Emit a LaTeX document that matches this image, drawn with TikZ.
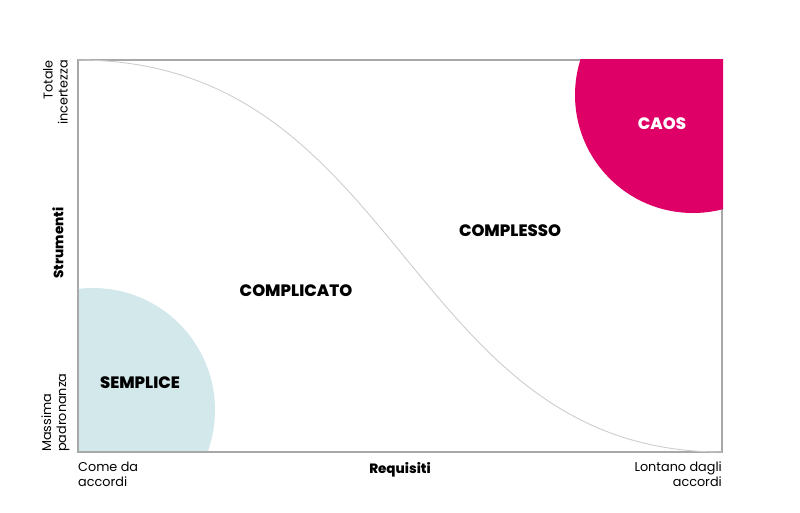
\documentclass[tikz,border=0pt]{standalone}
\usepackage{fontspec}
\setmainfont{Poppins}
\newfontfamily\heavyfont{Poppins}[UprightFont=* ExtraBold]
\usetikzlibrary{positioning}
\definecolor{caospink}{RGB}{222,0,102}
\definecolor{sempblue}{RGB}{211,232,235}
\definecolor{framegray}{RGB}{168,168,168}
\definecolor{curvegray}{RGB}{205,205,205}

\begin{document}
\begin{tikzpicture}[x=1pt,y=-1pt,
  zone/.style={font=\fontsize{16.5}{19}\heavyfont},
  axislbl/.style={font=\fontsize{12.8}{15}\selectfont, inner sep=0pt},
  axisname/.style={font=\fontsize{13.5}{15}\heavyfont, inner sep=0pt}]

\useasboundingbox (0,0) rectangle (800,512);

%---------------- Semplice area ----------------%
\begin{scope}
\clip (78,60) rectangle (722,452);
\fill[sempblue] (93,410) circle (122pt);
\end{scope}

%---------------- Frame ----------------%
\coordinate (tl) at (78,60);
\coordinate (bl) at (78,452);
\coordinate (br) at (722,452);
\coordinate (tr) at (722,60);
\draw[framegray, line width=1.3pt] (tl) -- (bl) -- (br) -- (tr) -- cycle;

%---------------- Curve ----------------%
\draw[curvegray, line width=0.9pt] (tl) .. controls (405,60) and (405,452) .. (br);

%---------------- Caos area ----------------%
\begin{scope}
\clip (77,59) rectangle (723,453);
\fill[caospink] (693,95) circle (118pt);
\end{scope}

%---------------- Zones ----------------%
\node[zone] (semplice) at (140,383) {SEMPLICE};
\node[zone] (complicato) at (296,291) {COMPLICATO};
\node[zone] (complesso) at (510,231) {COMPLESSO};
\node[zone, text=white] (caos) at (662,124) {CAOS};

%---------------- Axis labels ----------------%
\node[axislbl, rotate=90, anchor=east, align=right] (totale) at (55.5,60) {Totale\\incertezza};
\node[axislbl, rotate=90, anchor=west, align=left] (massima) at (55.5,452) {Massima\\padronanza};
\node[axisname, rotate=90] (strumenti) at (58,243) {Strumenti};

\node[axislbl, anchor=north west, align=left] (comeda) at (78,462) {Come da\\accordi};
\node[axisname] (requisiti) at (400,470) {Requisiti};
\node[axislbl, anchor=north east, align=right] (lontano) at (722,462) {Lontano dagli\\accordi};

\end{tikzpicture}
\end{document}
